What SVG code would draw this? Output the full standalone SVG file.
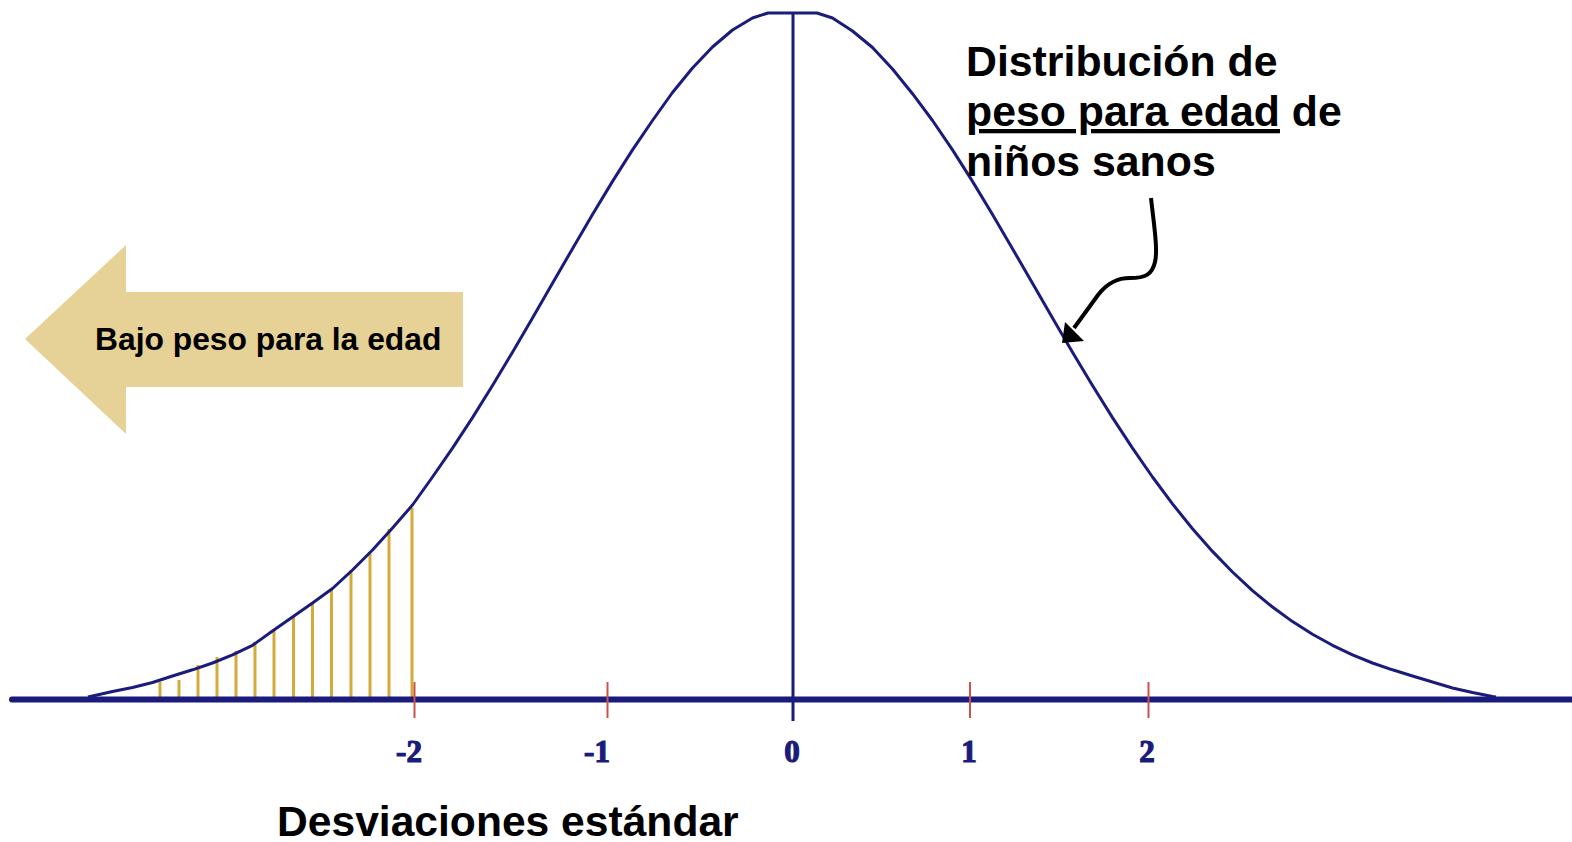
<svg xmlns="http://www.w3.org/2000/svg" width="1572" height="842" viewBox="0 0 1572 842">
<style>
.navy{stroke:#1b1b7b;fill:none}
.curve{stroke:#1b1b7b;stroke-width:3;fill:none;stroke-linejoin:round}
.shade{stroke:#d4ab3a;stroke-width:3}
.tick{stroke:#c9524c;stroke-width:2}
.num{font-family:"Liberation Serif","Times New Roman",serif;font-weight:bold;font-size:31px;fill:#1b1b7b;stroke:#1b1b7b;stroke-width:1.2;text-anchor:middle}
.lbl{font-family:"Liberation Sans",Arial,sans-serif;font-weight:bold;fill:#000}
</style>
<rect width="1572" height="842" fill="#ffffff"/>
<g id="shading">
<line class="shade" x1="160" y1="699" x2="160" y2="682"/>
<line class="shade" x1="179" y1="699" x2="179" y2="680"/>
<line class="shade" x1="198" y1="699" x2="198" y2="665"/>
<line class="shade" x1="217" y1="699" x2="217" y2="657"/>
<line class="shade" x1="236" y1="699" x2="236" y2="651"/>
<line class="shade" x1="255" y1="699" x2="255" y2="642"/>
<line class="shade" x1="274" y1="699" x2="274" y2="629"/>
<line class="shade" x1="293.5" y1="699" x2="293.5" y2="616"/>
<line class="shade" x1="312.5" y1="699" x2="312.5" y2="603"/>
<line class="shade" x1="331.5" y1="699" x2="331.5" y2="589"/>
<line class="shade" x1="351" y1="699" x2="351" y2="570"/>
<line class="shade" x1="370" y1="699" x2="370" y2="554"/>
<line class="shade" x1="389" y1="699" x2="389" y2="529"/>
<line class="shade" x1="412" y1="699" x2="412" y2="508"/>
</g>
<g id="curve">
<polyline class="curve" points="88,697 92.5,696 112.5,691.5 132.5,687.5 152.5,682.5 172.5,676 192.5,669.8 212.5,663 232.5,654.8 252.5,645.3 272.5,631 292.5,617 312.5,603 332.5,588.5 352.5,570 372.5,550 392.5,528 412.5,505 432.5,477 452.5,448.1 472.5,417.6 492.5,385.5 512.5,352.2 532.5,318 552.5,283.3 572.5,248.7 592.5,214.5 612.5,181.4 632.5,149.9 652.5,120.5 672.5,92.5 692.5,68 712.5,47 732.5,30 752.5,18 768,13 817,13 832.5,18 852.5,31 872.5,47.5 892.5,69 912.5,93.7 932.5,120.5 952.5,149.9 972.5,181.4 992.5,214.5 1012.5,248.7 1032.5,283.3 1052.5,318 1072.5,352.2 1092.5,385.5 1112.5,417.6 1132.5,448.1 1152.5,477 1172.5,503.9 1192.5,528.7 1212.5,551.4 1232.5,572 1252.5,590.6 1272.5,607 1292.5,621.6 1312.5,634.3 1332.5,645.3 1352.5,654.8 1372.5,663 1392.5,669.8 1412.5,676 1432.5,682 1452.5,688 1472.5,692.5 1492.5,696.5 1496,697"/>
</g>
<g id="axis">
<line class="navy" x1="12" y1="699.5" x2="1572" y2="699.5" stroke-width="6" stroke-linecap="round"/>
<line class="navy" x1="793" y1="13" x2="793" y2="721" stroke-width="3"/>
<line class="tick" x1="414.5" y1="682" x2="414.5" y2="718"/>
<line class="tick" x1="607.5" y1="682" x2="607.5" y2="718"/>
<line class="tick" x1="970" y1="682" x2="970" y2="718"/>
<line class="tick" x1="1148.5" y1="682" x2="1148.5" y2="718"/>
<text class="num" x="409" y="762">-2</text>
<text class="num" x="597" y="762">-1</text>
<text class="num" x="792" y="762">0</text>
<text class="num" x="969" y="762">1</text>
<text class="num" x="1147" y="762">2</text>
</g>
<g id="low-weight-arrow">
<polygon points="25,339 126,245 126,292 463,292 463,387 126,387 126,434" fill="#e6d197"/>
<text class="lbl" x="95" y="350" font-size="31.8">Bajo peso para la edad</text>
</g>
<g id="distribution-label">
<text class="lbl" font-size="42.8"><tspan x="966" y="76">Distribución de</tspan><tspan x="966" y="126"><tspan text-decoration="underline">peso para edad</tspan> de</tspan><tspan x="966" y="176">niños sanos</tspan></text>
</g>
<g id="x-title">
<text class="lbl" x="277" y="836" font-size="42.6">Desviaciones estándar</text>
</g>
<g id="connectors">
<path d="M1151,198 C1154,225 1158,250 1155,262 C1152,275 1145,278 1130,278 C1118,278 1108,282 1098,295 L1074,328" fill="none" stroke="#000" stroke-width="4"/>
<polygon points="1062,343 1065,322 1084,341" fill="#000"/>
</g>
</svg>
